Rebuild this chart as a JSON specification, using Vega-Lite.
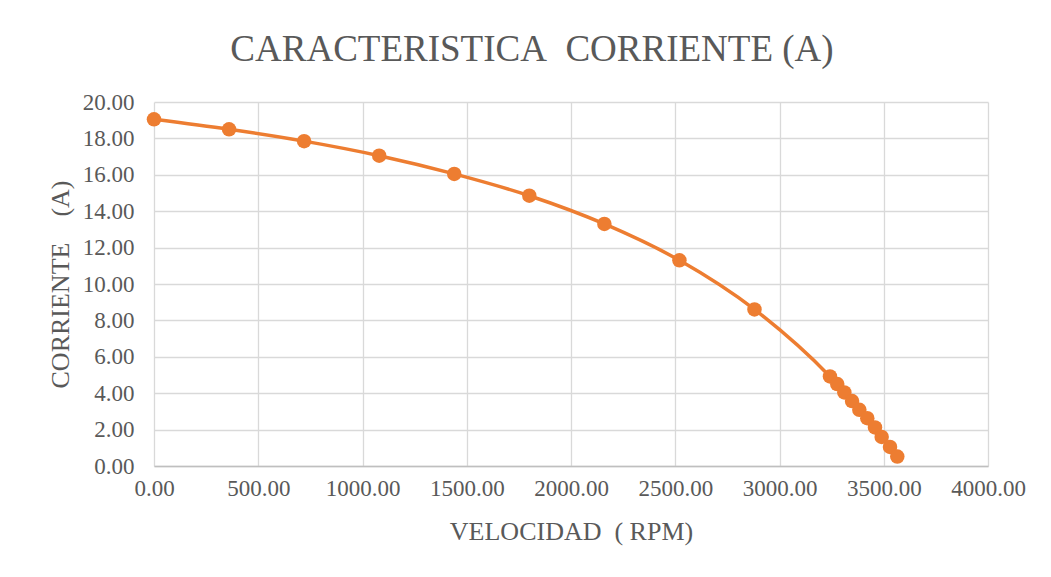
{
  "$schema": "https://vega.github.io/schema/vega-lite/v6.json",
  "autosize": "none",
  "width": 834,
  "height": 364,
  "padding": {"left": 154, "top": 102, "right": 63, "bottom": 111},
  "background": "white",
  "title": {
    "text": "CARACTERISTICA\u00a0 CORRIENTE (A)",
    "font": "Liberation Serif",
    "fontSize": 37,
    "fontWeight": "normal",
    "color": "#595959",
    "baseline": "alphabetic",
    "offset": -7,
    "dx": -39
  },
  "data": {
    "values": [
      {"rpm": 0, "corriente": 19.05},
      {"rpm": 360, "corriente": 18.5},
      {"rpm": 720, "corriente": 17.85},
      {"rpm": 1080, "corriente": 17.05},
      {"rpm": 1440, "corriente": 16.05},
      {"rpm": 1800, "corriente": 14.85},
      {"rpm": 2160, "corriente": 13.3},
      {"rpm": 2520, "corriente": 11.3},
      {"rpm": 2880, "corriente": 8.6},
      {"rpm": 3242, "corriente": 4.92},
      {"rpm": 3277, "corriente": 4.5},
      {"rpm": 3311, "corriente": 4.04},
      {"rpm": 3348, "corriente": 3.57},
      {"rpm": 3383, "corriente": 3.09},
      {"rpm": 3421, "corriente": 2.63},
      {"rpm": 3458, "corriente": 2.12},
      {"rpm": 3490, "corriente": 1.6},
      {"rpm": 3530, "corriente": 1.05},
      {"rpm": 3565, "corriente": 0.52}
    ]
  },
  "encoding": {
    "x": {
      "field": "rpm",
      "type": "quantitative",
      "scale": {"domain": [0, 4000], "nice": false, "zero": true},
      "axis": {
        "title": "VELOCIDAD\u00a0 ( RPM)",
        "values": [0, 500, 1000, 1500, 2000, 2500, 3000, 3500, 4000],
        "format": ".2f",
        "labelFont": "Liberation Serif",
        "labelFontSize": 23,
        "labelColor": "#595959",
        "labelPadding": 11,
        "ticks": false,
        "domainColor": "#bfbfbf",
        "domainWidth": 1.5,
        "gridColor": "#d9d9d9",
        "gridWidth": 1.3,
        "titleFont": "Liberation Serif",
        "titleFontSize": 26,
        "titleFontWeight": "normal",
        "titleColor": "#595959",
        "titlePadding": 18,
        "labelFlush": false
      }
    },
    "y": {
      "field": "corriente",
      "type": "quantitative",
      "scale": {"domain": [0, 20], "nice": false},
      "axis": {
        "title": "CORRIENTE\u00a0\u00a0\u00a0 (A)",
        "values": [0, 2, 4, 6, 8, 10, 12, 14, 16, 18, 20],
        "format": ".2f",
        "labelFont": "Liberation Serif",
        "labelFontSize": 23,
        "labelColor": "#595959",
        "labelPadding": 20,
        "ticks": false,
        "domain": false,
        "gridColor": "#d9d9d9",
        "gridWidth": 1.3,
        "titleFont": "Liberation Serif",
        "titleFontSize": 26,
        "titleFontWeight": "normal",
        "titleColor": "#595959",
        "titlePadding": 9,
        "labelFlush": false
      }
    }
  },
  "layer": [
    {
      "mark": {"type": "line", "color": "#ED7D31", "strokeWidth": 3.5, "interpolate": "monotone"}
    },
    {
      "mark": {"type": "point", "filled": true, "opacity": 1, "color": "#ED7D31", "size": 210, "shape": "circle"}
    }
  ],
  "config": {
    "view": {"stroke": null}
  }
}
